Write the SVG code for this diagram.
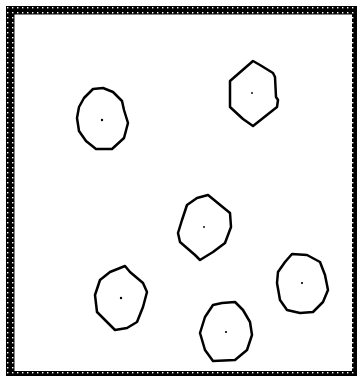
<svg xmlns="http://www.w3.org/2000/svg" width="359" height="378" viewBox="0 0 359 378">
  <defs>
    <pattern id="dots" x="0" y="0" width="5" height="5" patternUnits="userSpaceOnUse">
      <rect width="5" height="5" fill="#000"/>
      <rect x="2" y="2" width="1.4" height="1.4" fill="#fff"/>
    </pattern>
    <style>
      .cell { fill: none; stroke: #000; stroke-width: 2.5; stroke-linejoin: round; }
      .dot { fill: #000; }
    </style>
  </defs>
  <rect width="359" height="378" fill="#fff"/>
  <g id="frame">
    <path d="M6,6 H357 V376 H6 Z M14.5,14.5 V371 H352 V14.5 Z" fill="url(#dots)" fill-rule="evenodd"/>
  </g>
  <g id="cell1">
    <polygon class="cell" points="93,89 103,88 113,92 122,101 124,110 128,123 124,138 112,149 96,149 86,141 79,131 77,118 79,107 84,98"/>
    <circle class="dot" cx="102" cy="120" r="1.2"/>
  </g>
  <g id="cell2">
    <polygon class="cell" points="253,61 260,65 273,73 275,77 276,97 278,100 277,107 253,126 243,119 230,107 230,81"/>
    <circle class="dot" cx="252" cy="93" r="0.9"/>
  </g>
  <g id="cell3">
    <polygon class="cell" points="208,195 230,213 231,227 225,243 213,252 200,260 195,255 180,242 178,233 182,220 187,205 197,198"/>
    <circle class="dot" cx="204" cy="227" r="0.9"/>
  </g>
  <g id="cell4">
    <polygon class="cell" points="125,266 130,272 143,283 147,292 143,307 137,322 127,328 115,330 107,322 97,312 95,295 100,280 110,272"/>
    <circle class="dot" cx="121" cy="298" r="1.2"/>
  </g>
  <g id="cell5">
    <polygon class="cell" points="292,254 307,255 320,262 325,275 328,290 323,302 313,312 300,313 287,310 280,300 277,283 278,272 285,262"/>
    <circle class="dot" cx="302" cy="283" r="1.1"/>
  </g>
  <g id="cell6">
    <polygon class="cell" points="213,305 222,303 235,302 243,310 250,322 252,335 247,350 235,360 213,361 205,350 200,333 205,317"/>
    <circle class="dot" cx="226" cy="332" r="1.1"/>
  </g>
  <g id="connectors"></g>
</svg>
